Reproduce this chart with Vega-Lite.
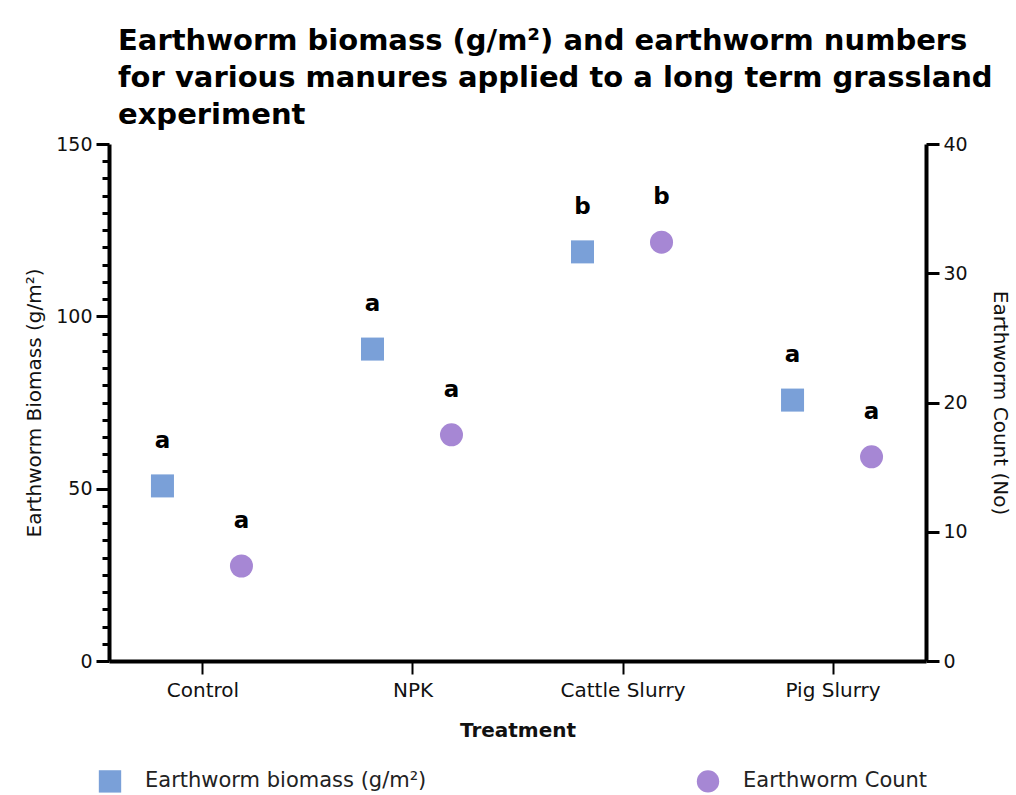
{
  "$schema": "https://vega.github.io/schema/vega-lite/v6.json",
  "width": 817,
  "height": 517,
  "padding": {"left": 24, "top": 27, "right": 5, "bottom": 5},
  "background": "white",
  "config": {
    "font": "DejaVu Sans",
    "view": {"stroke": null},
    "axis": {"domainColor": "black", "tickColor": "black", "labelColor": "#111", "titleColor": "#111", "grid": false, "domainWidth": 4, "tickWidth": 3, "labelFont": "DejaVu Sans", "titleFont": "DejaVu Sans"}
  },
  "title": {
    "text": ["Earthworm biomass (g/m²) and earthworm numbers", "for various manures applied to a long term grassland", "experiment"],
    "anchor": "start",
    "frame": "group",
    "font": "DejaVu Sans",
    "fontSize": 29,
    "fontWeight": "bold",
    "lineHeight": 37,
    "dx": 9,
    "offset": 5,
    "color": "#000"
  },
  "data": {
    "values": [
      {"treatment": "Control", "series": "Earthworm biomass (g/m²)", "value": 50.8, "letter": "a"},
      {"treatment": "NPK", "series": "Earthworm biomass (g/m²)", "value": 90.5, "letter": "a"},
      {"treatment": "Cattle Slurry", "series": "Earthworm biomass (g/m²)", "value": 118.7, "letter": "b"},
      {"treatment": "Pig Slurry", "series": "Earthworm biomass (g/m²)", "value": 75.7, "letter": "a"},
      {"treatment": "Control", "series": "Earthworm Count", "value": 7.35, "letter": "a"},
      {"treatment": "NPK", "series": "Earthworm Count", "value": 17.5, "letter": "a"},
      {"treatment": "Cattle Slurry", "series": "Earthworm Count", "value": 32.4, "letter": "b"},
      {"treatment": "Pig Slurry", "series": "Earthworm Count", "value": 15.8, "letter": "a"}
    ]
  },
  "encoding": {
    "x": {
      "field": "treatment",
      "type": "nominal",
      "sort": ["Control", "NPK", "Cattle Slurry", "Pig Slurry"],
      "scale": {"type": "point", "padding": 0.445},
      "axis": {"title": "Treatment", "labelAngle": 0, "labelFontSize": 20, "labelPadding": 6, "tickSize": 13, "tickWidth": 2, "titleFontSize": 20, "titleFontWeight": "bold", "titlePadding": 20}
    },
    "xOffset": {
      "field": "series",
      "type": "nominal",
      "scale": {"type": "point", "padding": 0, "domain": ["Earthworm biomass (g/m²)", "Earthworm Count"], "range": [-40, 39]}
    }
  },
  "layer": [
    {
      "transform": [{"filter": "datum.series === 'Earthworm biomass (g/m²)'"}],
      "encoding": {
        "y": {
          "field": "value",
          "type": "quantitative",
          "scale": {"domain": [0, 150], "nice": false},
          "axis": {
            "orient": "left",
            "title": "Earthworm Biomass (g/m²)",
            "values": [0, 5, 10, 15, 20, 25, 30, 35, 40, 45, 50, 55, 60, 65, 70, 75, 80, 85, 90, 95, 100, 105, 110, 115, 120, 125, 130, 135, 140, 145, 150],
            "labelExpr": "datum.value % 50 === 0 ? datum.label : ''",
            "labelOverlap": false,
            "tickSize": {"condition": {"test": "datum.value % 50 === 0", "value": 13}, "value": 7},
            "labelFontSize": 19,
            "labelPadding": 4,
            "titleFontSize": 20,
            "titleFontWeight": "normal",
            "titlePadding": 11
          }
        }
      },
      "layer": [
        {
          "mark": {"type": "point", "filled": true, "size": 530, "opacity": 1},
          "encoding": {
            "color": {"field": "series", "type": "nominal", "scale": {"domain": ["Earthworm biomass (g/m²)", "Earthworm Count"], "range": ["#7aa0d8", "#a687d4"]},
              "legend": {"orient": "none", "legendX": -11, "legendY": 625, "direction": "horizontal", "columns": 2, "columnPadding": 269, "symbolSize": 500, "labelFontSize": 21, "labelColor": "#222", "labelOffset": 23, "labelLimit": 500, "title": null}},
            "shape": {"field": "series", "type": "nominal", "scale": {"domain": ["Earthworm biomass (g/m²)", "Earthworm Count"], "range": ["square", "circle"]}}
          }
        },
        {
          "mark": {"type": "text", "dy": -38, "baseline": "alphabetic", "fontSize": 23, "fontWeight": "bold", "color": "#000"},
          "encoding": {"text": {"field": "letter"}}
        }
      ]
    },
    {
      "transform": [{"filter": "datum.series === 'Earthworm Count'"}],
      "encoding": {
        "y": {
          "field": "value",
          "type": "quantitative",
          "scale": {"domain": [0, 40], "nice": false},
          "axis": {
            "orient": "right",
            "title": "Earthworm Count (No)",
            "values": [0, 10, 20, 30, 40],
            "tickSize": 13,
            "labelFontSize": 19,
            "labelPadding": 4,
            "titleFontSize": 20,
            "titleFontWeight": "normal",
            "titleAngle": 90,
            "titlePadding": 22
          }
        }
      },
      "layer": [
        {
          "mark": {"type": "point", "filled": true, "size": 530, "opacity": 1},
          "encoding": {
            "color": {"field": "series", "type": "nominal"},
            "shape": {"field": "series", "type": "nominal"}
          }
        },
        {
          "mark": {"type": "text", "dy": -38, "baseline": "alphabetic", "fontSize": 23, "fontWeight": "bold", "color": "#000"},
          "encoding": {"text": {"field": "letter"}}
        }
      ]
    }
  ],
  "resolve": {"scale": {"y": "independent"}}
}
